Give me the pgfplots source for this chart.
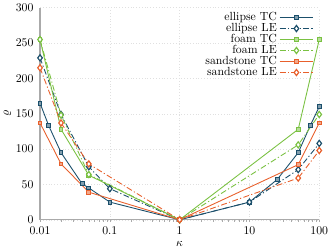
\documentclass[border=0pt]{standalone}
\usepackage{pgfplots}
\pgfplotsset{compat=1.18}
\definecolor{cblue}{RGB}{27,79,107}
\definecolor{cgreen}{RGB}{122,193,66}
\definecolor{corange}{RGB}{232,96,44}
\definecolor{axgray}{RGB}{170,170,170}
\begin{document}
\begin{tikzpicture}
\begin{axis}[
  scale only axis,
  width=237pt, height=180pt,
  xmode=log,
  xmin=0.01, xmax=100,
  ymin=0, ymax=300,
  ytick={0,50,100,150,200,250,300},
  xtick={0.01,0.1,1,10,100},
  xticklabels={0.01,0.1,1,10,100},
  axis lines=left,
  axis line style={axgray, line width=1pt, -},
  tick style={axgray},
  tick align=outside,
  major tick length=2pt,
  minor tick length=1.5pt,
  ytick style={draw=none},
  grid=major,
  major grid style={dotted, black!12},
  xlabel={$\kappa$},
  ylabel={$\varrho$},
  xlabel style={yshift=1pt},
  ylabel style={yshift=-3pt},
  legend plot pos=right,
  legend cell align=right,
  legend style={draw=none, fill=none, at={(0.985,0.995)}, anchor=north east, row sep=-3.2pt, inner sep=1pt},
  legend image code/.code={\draw[mark repeat=2,mark phase=2,#1] plot coordinates {(0cm,0cm) (0.5cm,0cm) (1cm,0cm)};},
  every axis plot/.append style={line width=0.75pt},
  lepat/.style={dash pattern=on 5pt off 2pt on 1pt off 2pt},
]
\addplot[cblue, mark=square*, mark size=1.6pt, mark options={solid, fill=cblue!55}] coordinates {
(0.01,165)(0.013333,133)(0.02,95)(0.04,51)(0.05,45)(0.1,25)(1,0)(10,25)(25,57)(50,95)(75,134)(100,160)};
\addlegendentry{ellipse TC}
\addplot[cblue, lepat, mark=diamond*, mark size=2.6pt, mark options={solid, fill=white, line width=1pt}] coordinates {
(0.01,229)(0.02,149)(0.05,75)(0.1,44)(1,0)(10,25)(50,71)(100,108)};
\addlegendentry{ellipse LE}
\addplot[cgreen, mark=square*, mark size=1.6pt, mark options={solid, fill=cgreen!55}] coordinates {
(0.01,255)(0.02,128)(0.05,63)(1,0)(50,128)(100,255)};
\addlegendentry{foam TC}
\addplot[cgreen, lepat, mark=diamond*, mark size=2.6pt, mark options={solid, fill=white, line width=1pt}] coordinates {
(0.01,255)(0.02,148)(0.05,64)(1,0)(50,106)(100,149)};
\addlegendentry{foam LE}
\addplot[corange, mark=square*, mark size=1.6pt, mark options={solid, fill=corange!55}] coordinates {
(0.01,137)(0.02,79)(0.05,39)(1,0)(50,78)(100,137)};
\addlegendentry{sandstone TC}
\addplot[corange, lepat, mark=diamond*, mark size=2.6pt, mark options={solid, fill=white, line width=1pt}] coordinates {
(0.01,215)(0.02,137)(0.05,79)(1,0)(50,59)(100,98)};
\addlegendentry{sandstone LE}
\end{axis}
\end{tikzpicture}
\end{document}
